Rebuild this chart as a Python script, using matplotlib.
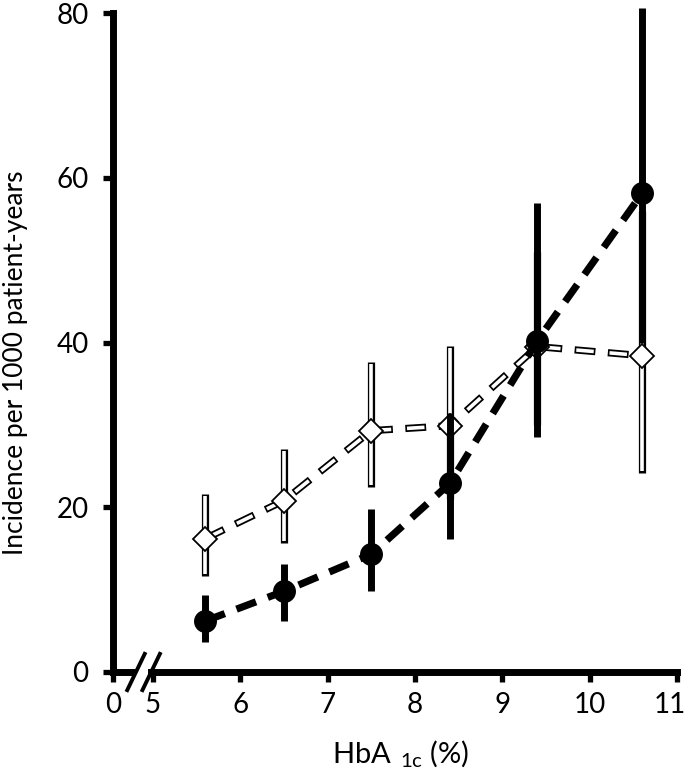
import matplotlib

matplotlib.use("Agg")
import matplotlib.pyplot as plt
from matplotlib.transforms import ScaledTranslation

plt.rcParams["font.family"] = ["Lato", "DejaVu Sans"]
plt.rcParams["mathtext.fontset"] = "custom"
plt.rcParams["mathtext.rm"] = "Lato"
plt.rcParams["lines.scale_dashes"] = False

# HbA1c category midpoints (%)
hba1c = [5.6, 6.5, 7.5, 8.4, 9.4, 10.6]

# filled circles
solid_rate = [6.2, 9.8, 14.3, 22.9, 40.2, 58.1]
solid_lo = [3.6, 6.2, 9.8, 16.2, 28.5, 40.0]
solid_hi = [9.3, 13.1, 19.8, 31.5, 56.9, 80.6]

# open diamonds
open_rate = [16.2, 20.8, 29.3, 29.9, 39.5, 38.4]
open_lo = [11.7, 15.6, 22.4, 21.0, 30.0, 24.1]
open_hi = [21.6, 27.1, 37.6, 39.6, 51.0, 56.0]

x_ticks = [5, 6, 7, 8, 9, 10, 11]
y_ticks = [0, 20, 40, 60, 80]

# where the "0" of the broken x axis sits, in HbA1c units
X_ZERO = 4.543

fig = plt.figure(figsize=(6.88, 7.75), dpi=100)
ax = fig.add_axes([113 / 688, 103 / 775, 564 / 688, 659 / 775])

ax.set_xlim(X_ZERO, 11)
ax.set_ylim(0, 80)

# open series: black outline, white inside
on, off, edge = 15.0, 9.0, 1.2
for x, lo, hi in zip(hba1c, open_lo, open_hi):
    ax.plot([x, x], [lo, hi], color="black", lw=5.2, solid_capstyle="butt", zorder=2)
    ax.plot([x, x], [lo + 0.25, hi - 0.25], color="white", lw=2.6,
            solid_capstyle="butt", zorder=2.1)
ax.plot(hba1c, open_rate, color="black", lw=5.2, linestyle=(0, (on, off)),
        dash_capstyle="butt", zorder=2.2)
ax.plot(hba1c, open_rate, color="white", lw=2.6,
        linestyle=(on + off - edge, (on - 2 * edge, off + 2 * edge)),
        dash_capstyle="butt", zorder=2.3)
ax.plot(hba1c, open_rate, linestyle="none", marker="D", ms=12, mfc="white",
        mec="black", mew=1.3, zorder=2.4)

# filled series on top
for x, lo, hi in zip(hba1c, solid_lo, solid_hi):
    ax.plot([x, x], [lo, hi], color="black", lw=5.0, solid_capstyle="butt",
            zorder=3, clip_on=False)
ax.plot(hba1c, solid_rate, color="black", lw=5.2, linestyle=(0, (15, 9)),
        dash_capstyle="butt", zorder=3.1)
ax.plot(hba1c, solid_rate, linestyle="none", marker="o", ms=15.5, color="black",
        zorder=3.2)

# axes styling
for side in ("top", "right"):
    ax.spines[side].set_visible(False)
for side in ("left", "bottom"):
    ax.spines[side].set_linewidth(5)
ax.spines["bottom"].set_bounds(4.98, 11)

# left stub of the broken x axis plus the break marks
ax.plot([X_ZERO, 4.80], [0, 0], color="black", lw=5, solid_capstyle="butt",
        clip_on=False, zorder=4)
for cx in (4.806, 4.98):
    ax.plot([cx - 0.1, cx + 0.1], [-2.2, 2.2], color="black", lw=2.8,
            clip_on=False, zorder=4)

ax.set_xticks([X_ZERO] + x_ticks)
ax.set_xticklabels(["0"] + [str(v) for v in x_ticks])
ax.set_yticks(y_ticks)
ax.set_yticklabels([str(v) for v in y_ticks])
ax.tick_params(axis="both", direction="out", length=7.5, width=3.8,
               labelsize=20, color="black")
ax.tick_params(axis="y", pad=10)
ax.tick_params(axis="x", pad=7)

# the "11" sits a touch left so it stays inside the picture
last = ax.get_xticklabels()[-1]
last.set_transform(last.get_transform() + ScaledTranslation(-5 / 72, 0, fig.dpi_scale_trans))

ax.set_ylabel("Incidence per 1000 patient-years", fontsize=19)
ax.yaxis.set_label_coords(-0.15, 0.47)
ax.set_xlabel(r"HbA$\ _{\mathrm{1c}}$ (%)", fontsize=21)
ax.xaxis.set_label_coords(0.51, -0.10)

fig.savefig("out.png", dpi=100)
